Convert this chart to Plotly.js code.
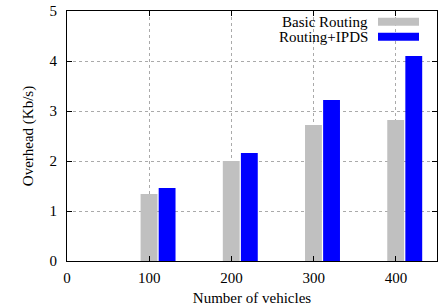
<!DOCTYPE html>
<html>
<head>
<meta charset="utf-8">
<script src="https://cdn.plot.ly/plotly-3.0.1.min.js"></script>
<style>html,body{margin:0;padding:0;background:#fff;}#chart{width:441px;height:306px;}</style>
</head>
<body>
<div id="chart"></div>
<script>
const vehicles = [100, 200, 300, 400];
const basicRouting = [1.34, 2.0, 2.72, 2.82];
const routingIPDS = [1.46, 2.16, 3.22, 4.10];
const seriesNames = ["Basic Routing", "Routing+IPDS"];
const seriesColors = ["#c0c0c0", "#0000ff"];
const xTicks = [0, 100, 200, 300, 400];
const yTicks = [0, 1, 2, 3, 4, 5];

const font = {family: "Liberation Serif, Times New Roman, serif", size: 15, color: "#000"};

const traces = [
  {type: "bar", x: vehicles, y: basicRouting, name: seriesNames[0], width: 20.5, offset: -10.5,
   marker: {color: seriesColors[0], line: {width: 0}}, showlegend: false},
  {type: "bar", x: vehicles, y: routingIPDS, name: seriesNames[1], width: 20.5, offset: 11.5,
   marker: {color: seriesColors[1], line: {width: 0}}, showlegend: false}
];

const L = 67, R = 437, T = 11, B = 261;
const W = R - L, H = B - T;
const px = v => (v - L) / W;
const py = v => (B - v) / H;

const legendRows = [21.7, 36.7];
const annotations = seriesNames.map((n, i) => ({
  xref: "paper", yref: "paper", x: px(370), y: py(legendRows[i]),
  xanchor: "right", yanchor: "middle", text: n, showarrow: false, font: font
}));
const shapes = seriesNames.map((n, i) => ({
  type: "rect", xref: "paper", yref: "paper",
  x0: px(378), x1: px(419), y0: py(legendRows[i] + 4), y1: py(legendRows[i] - 4),
  fillcolor: seriesColors[i], line: {width: 0}
}));

const layout = {
  width: 441, height: 306,
  margin: {l: L, r: 441 - R, t: T, b: 306 - B},
  paper_bgcolor: "#fff", plot_bgcolor: "#fff",
  font: font,
  showlegend: false,
  barmode: "overlay",
  xaxis: {
    range: [0, 450], tickvals: xTicks, ticktext: xTicks.map(String),
    showline: true, linecolor: "#000", linewidth: 1, mirror: "ticks",
    ticks: "inside", ticklen: 5, tickcolor: "#000",
    showgrid: true, gridcolor: "#aaa", griddash: "dot", gridwidth: 1,
    zeroline: false, tickfont: font, ticklabelstandoff: 3,
    title: {text: "Number of vehicles", font: font, standoff: 13}
  },
  yaxis: {
    range: [0, 5], tickvals: yTicks, ticktext: yTicks.map(String),
    showline: true, linecolor: "#000", linewidth: 1, mirror: "ticks",
    ticks: "inside", ticklen: 5, tickcolor: "#000",
    showgrid: true, gridcolor: "#aaa", griddash: "dot", gridwidth: 1,
    zeroline: false, tickfont: font, ticklabelstandoff: 6,
    title: {text: "Overhead (Kb/s)", font: font, standoff: 12}
  },
  annotations: annotations,
  shapes: shapes
};

Plotly.newPlot("chart", traces, layout, {displayModeBar: false, staticPlot: true});
</script>
</body>
</html>
